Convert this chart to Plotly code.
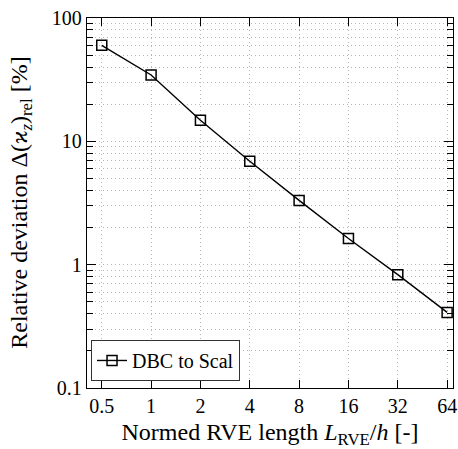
import plotly.graph_objects as go

x_vals = [0.5, 1, 2, 4, 8, 16, 32, 64]
y_vals = [60, 34.5, 14.8, 6.9, 3.32, 1.63, 0.83, 0.41]
x_ticks = [0.5, 1, 2, 4, 8, 16, 32, 64]
x_ticktext = ["0.5", "1", "2", "4", "8", "16", "32", "64"]
y_ticks = [0.1, 1, 10, 100]
y_ticktext = ["0.1", "1", "10", "100"]
y_minor = [m * 10 ** e for e in (-1, 0, 1) for m in range(2, 10)]

FONT = "Liberation Serif"
FS = 20
GRID = "#b8b8b8"
DASH = "1px,3px"

fig = go.Figure()
fig.add_trace(go.Scatter(
    x=x_vals, y=y_vals, mode="lines+markers", name="DBC to Scal",
    line=dict(color="black", width=1.4),
    marker=dict(symbol="square-open", size=10, color="black", line=dict(width=1.5, color="black")),
))

fig.update_layout(
    width=458, height=449,
    margin=dict(l=87, r=1, t=18, b=61),
    paper_bgcolor="white", plot_bgcolor="white",
    font=dict(family=FONT, size=FS, color="black"),
    showlegend=True,
    legend=dict(x=0.011, y=0.019, xanchor="left", yanchor="bottom",
                bgcolor="white", bordercolor="#333", borderwidth=1,
                font=dict(family=FONT, size=FS)),
    annotations=[dict(
        text="Relative deviation Δ(<i>ϰ</i><sub><i>z</i></sub>)<sub>rel</sub> [%]",
        xref="paper", yref="paper", x=-0.181, y=0.5, xanchor="center", yanchor="middle",
        textangle=-90, showarrow=False, font=dict(family=FONT, size=24, color="black"),
    )],
)
fig.update_xaxes(
    type="log", range=[-0.391, 1.842],
    tickmode="array", tickvals=x_ticks, ticktext=x_ticktext,
    ticks="inside", ticklen=8, tickwidth=1, tickcolor="black",
    ticklabeloverflow="allow",
    showline=True, linecolor="black", linewidth=1.3, mirror="ticks",
    showgrid=True, gridcolor=GRID, griddash=DASH, gridwidth=1,
    zeroline=False,
    title=dict(text="Normed RVE length <i>L</i><sub>RVE</sub>/<i>h</i> [-]", standoff=10),
)
fig.update_yaxes(
    type="log", range=[-1, 2],
    tickmode="array", tickvals=y_ticks, ticktext=y_ticktext,
    ticks="inside", ticklen=9, tickwidth=1, tickcolor="black",
    showline=True, linecolor="black", linewidth=1.3, mirror="ticks",
    showgrid=True, gridcolor=GRID, griddash=DASH, gridwidth=1,
    zeroline=False,
    minor=dict(tickmode="array", tickvals=y_minor, ticks="inside", ticklen=6,
               tickcolor="black", tickwidth=1,
               showgrid=True, gridcolor=GRID, griddash=DASH, gridwidth=1),
)

fig.write_html("out.html", config={"displayModeBar": False},
               post_script="document.body.style.margin='0';document.body.style.overflow='hidden';")
